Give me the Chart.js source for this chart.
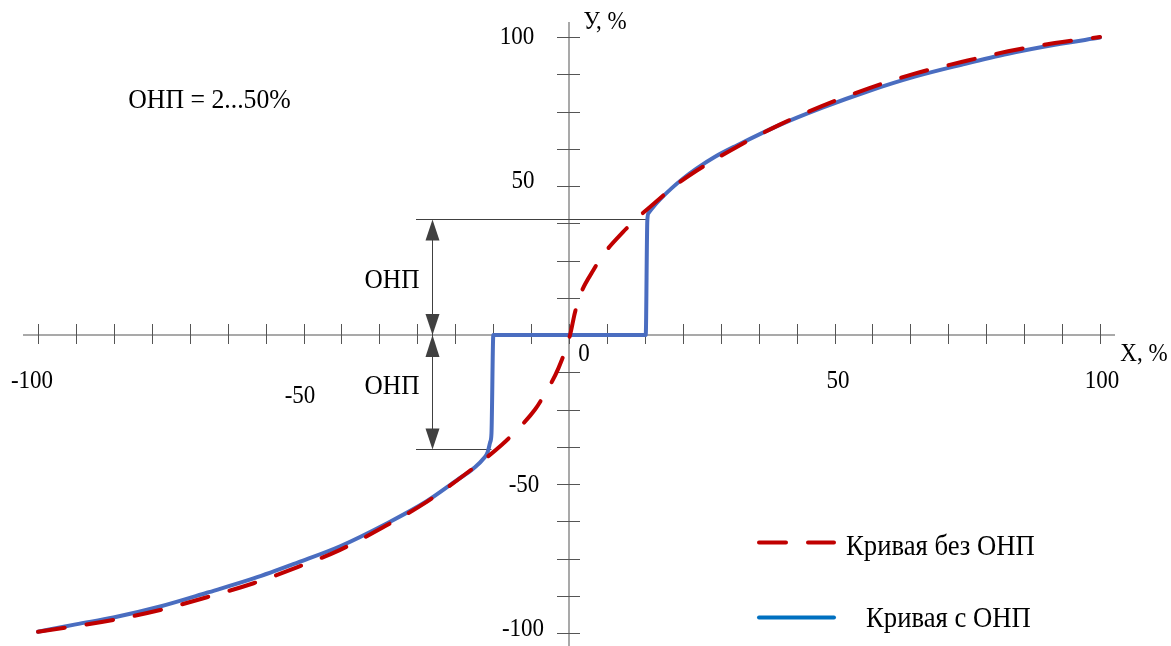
<!DOCTYPE html>
<html><head><meta charset="utf-8">
<script src="https://cdn.jsdelivr.net/npm/chart.js@4.4.1/dist/chart.umd.min.js"></script>
<style>html,body{margin:0;padding:0;background:#fff;overflow:hidden}#wrap{width:1171px;height:646px;position:relative}</style>
</head><body><div id="wrap"><canvas id="c" width="1171" height="646"></canvas></div>
<script>
// ---- data ----
const seriesNames = ['Кривая без ОНП', 'Кривая с ОНП'];
const noOnpX = [-100, -85.8, -77.0, -68.2, -59.4, -51.0, -43.1, -34.6, -26.8, -19.3, -12.7, -9.8, -6.4, -4.5, -2.0, 0.2, 1.1, 2.1, 4.6, 6.5, 10.2, 12.6, 17.1, 19.3, 24.0, 31.6, 39.7, 47.6, 56.3, 65.1, 73.9, 82.7, 91.5, 100];
const noOnpY = [-99.6, -95.6, -92.3, -88.0, -83.3, -77.8, -72.1, -64.1, -56.0, -46.4, -36.9, -31.9, -25.0, -19.6, -11.2, 0, 7.4, 13.4, 21.8, 27.1, 34.6, 38.8, 45.8, 49.2, 55.1, 63.1, 70.6, 76.8, 82.7, 87.7, 91.6, 95.2, 98.0, 100];
const withOnpX = [-100, -92.9, -85.8, -77.0, -68.2, -59.4, -51.0, -43.1, -34.6, -26.8, -21.1, -18.0, -16.0, -15.3, -14.85, -14.6, -14.25, 14.45, 14.75, 15.0, 15.6, 17.1, 19.3, 21.5, 24.0, 27.5, 31.6, 39.7, 47.6, 56.3, 65.1, 73.9, 82.7, 91.5, 100];
const withOnpY = [-99.6, -97.1, -94.8, -91.1, -86.5, -81.7, -76.3, -70.9, -63.5, -55.8, -48.7, -44.8, -41.3, -39.2, -36.0, -33.0, 0, 0, 38.5, 41.0, 42.4, 45.4, 49.2, 52.5, 55.8, 59.8, 63.6, 70.5, 76.2, 81.8, 86.7, 90.7, 94.4, 97.4, 99.8];
const onpLevels = [38.8, -38.1];
const xTickLabels = ['-100', '-50', '0', '50', '100'];
const yTickLabels = ['100', '50', '-50', '-100'];
const axisTitles = ['X, %', 'У, %'];
const noteText = 'ОНП = 2...50%';
const dimLabel = 'ОНП';

const FONT = '"Liberation Serif", "Times New Roman", serif';
const SX = 0.92;
function txt(ctx, s, x, y, size, align) {
  ctx.save();
  ctx.translate(x, y);
  ctx.scale(SX, 1);
  ctx.font = size + 'px ' + FONT;
  ctx.fillStyle = '#000';
  ctx.textAlign = align || 'center';
  ctx.textBaseline = 'alphabetic';
  ctx.fillText(s, 0, 0.34 * size);
  ctx.restore();
}
function tri(ctx, x, tipY, baseY, hw) {
  ctx.beginPath();
  ctx.moveTo(x, tipY);
  ctx.lineTo(x - hw, baseY);
  ctx.lineTo(x + hw, baseY);
  ctx.closePath();
  ctx.fill();
}

const decor = {
  id: 'decor',
  beforeDatasetsDraw(chart) {
    const ctx = chart.ctx, xs = chart.scales.x, ys = chart.scales.y;
    const x0 = xs.getPixelForValue(0), y0 = ys.getPixelForValue(0);
    ctx.save();
    ctx.strokeStyle = '#8c8c8c'; ctx.lineWidth = 1.5;
    ctx.beginPath(); ctx.moveTo(xs.left - 15, y0); ctx.lineTo(xs.right + 15, y0); ctx.stroke();
    ctx.beginPath(); ctx.moveTo(x0, ys.top - 15); ctx.lineTo(x0, chart.height); ctx.stroke();
    ctx.strokeStyle = '#555'; ctx.lineWidth = 1;
    for (let k = -14; k <= 14; k++) {
      const px = Math.round(xs.getPixelForValue(k * 100 / 14)) + 0.5;
      ctx.beginPath(); ctx.moveTo(px, y0 - 11); ctx.lineTo(px, y0 + 9); ctx.stroke();
    }
    for (let k = -8; k <= 8; k++) {
      const py = Math.round(ys.getPixelForValue(k * 12.5)) + 0.5;
      ctx.beginPath(); ctx.moveTo(x0 - 12, py); ctx.lineTo(x0 + 11, py); ctx.stroke();
    }
    const yu = Math.round(ys.getPixelForValue(onpLevels[0])) + 0.5;
    const yl = Math.round(ys.getPixelForValue(onpLevels[1])) + 0.5;
    ctx.strokeStyle = '#404040'; ctx.fillStyle = '#404040'; ctx.lineWidth = 1;
    ctx.beginPath(); ctx.moveTo(416, yu); ctx.lineTo(xs.getPixelForValue(14.9), yu); ctx.stroke();
    ctx.beginPath(); ctx.moveTo(416, yl); ctx.lineTo(xs.getPixelForValue(-14.6), yl); ctx.stroke();
    const ax = 432.5;
    ctx.beginPath(); ctx.moveTo(ax, yu + 10); ctx.lineTo(ax, yl - 10); ctx.stroke();
    tri(ctx, ax, yu, yu + 21, 7);
    tri(ctx, ax, y0, y0 - 21, 7);
    tri(ctx, ax, y0, y0 + 22, 7);
    tri(ctx, ax, yl, yl - 21, 7);
    ctx.restore();
  },
  afterDraw(chart) {
    const ctx = chart.ctx;
    txt(ctx, xTickLabels[0], 32, 379, 25);
    txt(ctx, xTickLabels[1], 300, 394, 25);
    txt(ctx, xTickLabels[2], 584, 352, 25);
    txt(ctx, xTickLabels[3], 838, 379, 25);
    txt(ctx, xTickLabels[4], 1102, 379, 25);
    txt(ctx, yTickLabels[0], 517, 35, 25);
    txt(ctx, yTickLabels[1], 523, 179, 25);
    txt(ctx, yTickLabels[2], 524, 483, 25);
    txt(ctx, yTickLabels[3], 523, 627, 25);
    txt(ctx, axisTitles[0], 1144, 352, 25);
    txt(ctx, axisTitles[1], 605, 20, 25);
    txt(ctx, noteText, 209.5, 98, 28);
    txt(ctx, dimLabel, 392, 279, 27.5);
    txt(ctx, dimLabel, 392, 385, 27.5);
    const ds = chart.data.datasets;
    ctx.save();
    ctx.lineWidth = 4; ctx.lineCap = 'round';
    ctx.strokeStyle = ds[0].borderColor; ctx.setLineDash([27, 22]);
    ctx.beginPath(); ctx.moveTo(759, 542.5); ctx.lineTo(834, 542.5); ctx.stroke();
    ctx.setLineDash([]);
    ctx.strokeStyle = '#0070C0';
    ctx.beginPath(); ctx.moveTo(759, 617.5); ctx.lineTo(834, 617.5); ctx.stroke();
    ctx.restore();
    txt(ctx, seriesNames[0], 846, 545, 29, 'left');
    txt(ctx, seriesNames[1], 866, 617, 29, 'left');
  }
};

new Chart(document.getElementById('c'), {
  type: 'scatter',
  data: {
    datasets: [
      { label: seriesNames[0], data: noOnpX.map((x, i) => ({ x, y: noOnpY[i] })), showLine: true,
        borderColor: '#C00000', borderWidth: 4, borderDash: [27, 22], borderCapStyle: 'round',
        pointRadius: 0, cubicInterpolationMode: 'monotone', clip: false },
      { label: seriesNames[1], data: withOnpX.map((x, i) => ({ x, y: withOnpY[i] })), showLine: true,
        borderColor: '#4A6DC0', borderWidth: 4, borderJoinStyle: 'round', borderCapStyle: 'round',
        pointRadius: 0, cubicInterpolationMode: 'monotone', clip: false }
    ]
  },
  options: {
    responsive: false, devicePixelRatio: 1, animation: false,
    layout: { padding: { left: 38, right: 71, top: 37, bottom: 13 } },
    plugins: { legend: { display: false }, tooltip: { enabled: false } },
    scales: {
      x: { type: 'linear', min: -100, max: 100, display: false },
      y: { type: 'linear', min: -100, max: 100, display: false }
    }
  },
  plugins: [decor]
});
</script></body></html>
